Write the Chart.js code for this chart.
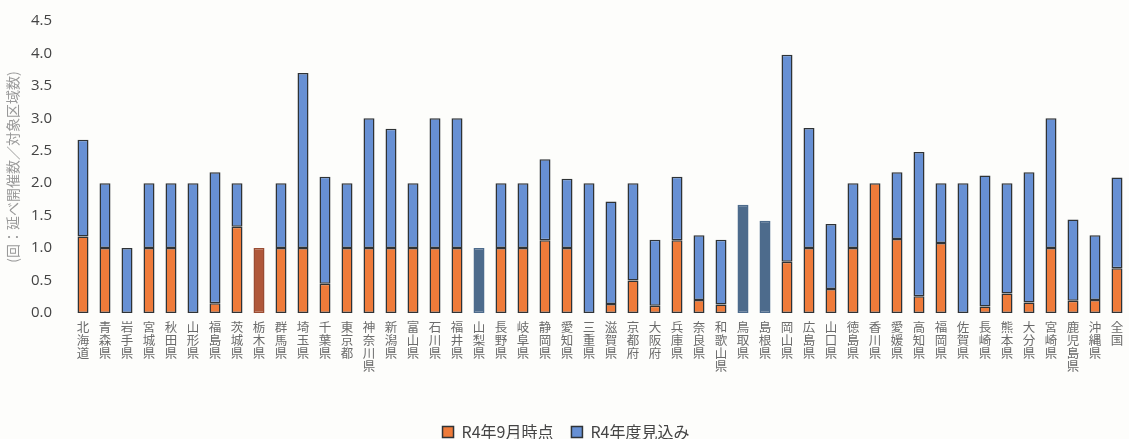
<!DOCTYPE html>
<html lang="ja">
<head>
<meta charset="utf-8">
<script src="https://cdn.jsdelivr.net/npm/chart.js@4.4.1/dist/chart.umd.min.js"></script>
<style>
  html, body { margin: 0; padding: 0; background: #fdfdfb; }
  #wrap { width: 1129px; height: 439px; position: relative; }
</style>
</head>
<body>
<div id="wrap"><canvas id="c"></canvas></div>
<script>
// 都道府県（＋全国）
const categories = [
  '北海道','青森県','岩手県','宮城県','秋田県','山形県','福島県','茨城県','栃木県','群馬県',
  '埼玉県','千葉県','東京都','神奈川県','新潟県','富山県','石川県','福井県','山梨県','長野県',
  '岐阜県','静岡県','愛知県','三重県','滋賀県','京都府','大阪府','兵庫県','奈良県','和歌山県',
  '鳥取県','島根県','岡山県','広島県','山口県','徳島県','香川県','愛媛県','高知県','福岡県',
  '佐賀県','長崎県','熊本県','大分県','宮崎県','鹿児島県','沖縄県','全国'
];

// R4年9月時点
const septValues = [
  1.18, 1.00, 0.00, 1.00, 1.00, 0.00, 0.15, 1.33, 1.00, 1.00,
  1.00, 0.45, 1.00, 1.00, 1.00, 1.00, 1.00, 1.00, 0.00, 1.00,
  1.00, 1.12, 1.00, 0.00, 0.14, 0.50, 0.11, 1.12, 0.20, 0.13,
  0.00, 0.00, 0.79, 1.00, 0.37, 1.00, 2.00, 1.14, 0.26, 1.08,
  0.00, 0.10, 0.30, 0.16, 1.00, 0.19, 0.20, 0.69
];

// R4年度見込み（9月時点からの上積み分）
const forecastValues = [
  1.49, 1.00, 1.00, 1.00, 1.00, 2.00, 2.02, 0.67, 0.00, 1.00,
  2.70, 1.65, 1.00, 2.00, 1.84, 1.00, 2.00, 2.00, 1.00, 1.00,
  1.00, 1.25, 1.07, 2.00, 1.58, 1.50, 1.02, 0.98, 1.00, 1.00,
  1.67, 1.42, 3.19, 1.85, 1.00, 1.00, 0.00, 1.03, 2.22, 0.92,
  2.00, 2.02, 1.70, 2.01, 2.00, 1.25, 1.00, 1.40
];

// y軸目盛
const yTicks = [0, 0.5, 1.0, 1.5, 2.0, 2.5, 3.0, 3.5, 4.0, 4.5];

const ORANGE = '#ef7b3a';
const BLUE = '#6790d4';
const EDGE = '#2f3336';

// 一部の棒は塗りの色味が異なる
const orangeFill = categories.map(c => c === '栃木県' ? '#b0583a' : ORANGE);
const orangeEdge = categories.map(c => c === '栃木県' ? '#9a4c33' : EDGE);
const blueFill = categories.map(c => ['山梨県','鳥取県','島根県'].includes(c) ? '#4d6b8c' : BLUE);
const blueEdge = categories.map(c => ['山梨県','鳥取県','島根県'].includes(c) ? '#4d6b8c' : EDGE);

new Chart(document.getElementById('c'), {
  type: 'bar',
  data: {
    labels: categories,
    datasets: [
      {
        label: 'R4年9月時点',
        data: septValues,
        backgroundColor: orangeFill,
        borderColor: orangeEdge,
        borderWidth: 1.5,
        borderSkipped: false,
        barPercentage: 0.5,
        categoryPercentage: 1.0
      },
      {
        label: 'R4年度見込み',
        data: forecastValues,
        backgroundColor: blueFill,
        borderColor: blueEdge,
        borderWidth: 1.5,
        borderSkipped: false,
        barPercentage: 0.5,
        categoryPercentage: 1.0
      }
    ]
  },
  options: {
    responsive: true,
    maintainAspectRatio: false,
    animation: false,
    layout: { padding: { top: 9, right: 1, bottom: -11, left: 4 } },
    plugins: {
      legend: {
        position: 'bottom',
        labels: {
          font: { family: '"Noto Sans CJK JP", "Noto Sans", sans-serif', size: 16 },
          color: '#444',
          boxWidth: 11,
          boxHeight: 11,
          padding: 18
        }
      },
      tooltip: { enabled: false }
    },
    scales: {
      x: {
        stacked: true,
        grid: { display: false },
        border: { display: false },
        ticks: {
          autoSkip: false,
          maxRotation: 0,
          minRotation: 0,
          padding: 0,
          color: '#6b6b6b',
          font: { family: '"Noto Sans CJK JP", sans-serif', size: 12.5, lineHeight: 1.04 },
          callback: (v, i) => categories[i].split('')
        },
        afterFit: (scale) => { scale.height = 93; }
      },
      y: {
        stacked: true,
        min: 0,
        max: 4.5,
        grid: { display: false },
        border: { display: false },
        afterBuildTicks: (scale) => { scale.ticks = yTicks.map(v => ({ value: v })); },
        ticks: {
          color: '#444',
          padding: 12,
          font: { family: '"Open Sans", "Noto Sans", sans-serif', size: 15 },
          callback: (v) => Number(v).toFixed(1)
        },
        title: {
          display: true,
          text: '(回：延べ開催数／対象区域数)',
          color: '#999',
          padding: { top: 0, bottom: 2 },
          font: { family: '"Noto Sans CJK JP", sans-serif', size: 14 }
        },
        afterFit: (scale) => { scale.width = 68; }
      }
    }
  }
});
</script>
</body>
</html>
